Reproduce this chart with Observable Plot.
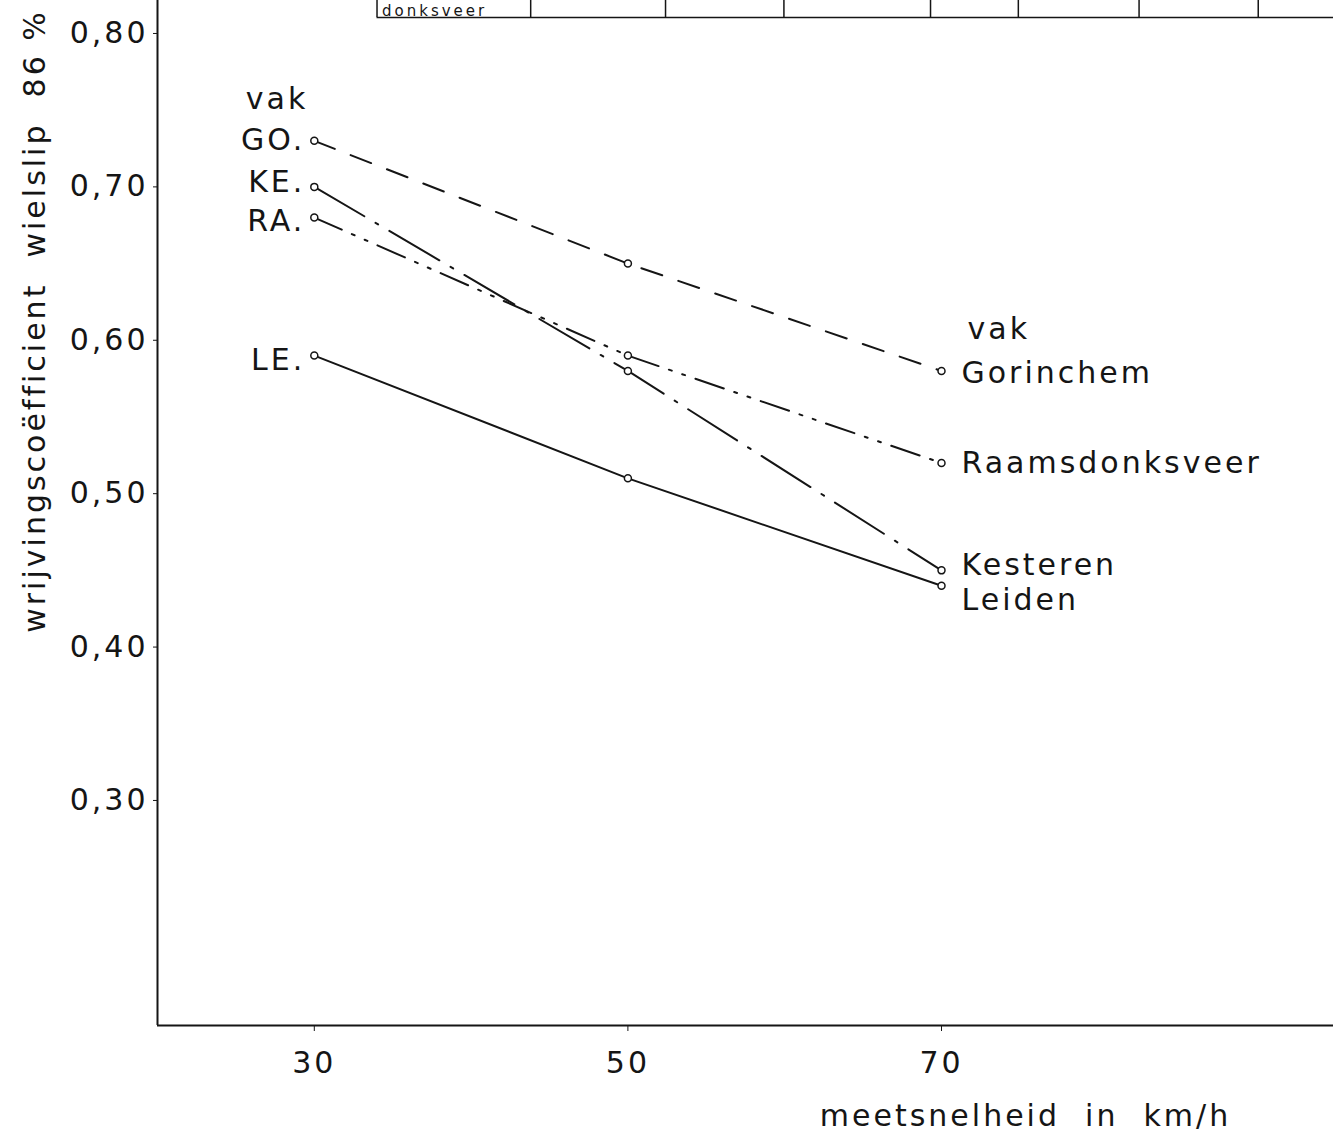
<!DOCTYPE html>
<html><head><meta charset="utf-8">
<script src="https://cdn.jsdelivr.net/npm/d3@7"></script>
<script src="https://cdn.jsdelivr.net/npm/@observablehq/plot@0.6"></script>
<style>
body{margin:0;background:#fff;}
#chart svg{font-family:"DejaVu Sans",sans-serif;}
</style></head><body><div id="chart"></div>
<script>
// ---- data ----
const speeds = [30, 50, 70];
const sections = ["Gorinchem", "Kesteren", "Raamsdonksveer", "Leiden"];
const codes = ["GO.", "KE.", "RA.", "LE."];
const gorinchem = [0.73, 0.65, 0.58];
const kesteren = [0.70, 0.58, 0.45];
const raamsdonksveer = [0.68, 0.59, 0.52];
const leiden = [0.59, 0.51, 0.44];
const yTicks = [0.30, 0.40, 0.50, 0.60, 0.70, 0.80];
const xTicks = [30, 50, 70];
const tableColumnSpeeds = [34.0, 43.8, 52.4, 59.95, 69.3, 74.9, 82.6, 90.2];

// ---- styles (not data) ----
const ink = "#151515";
const seriesStyle = {
  Gorinchem:      {dash: "22,17", leftDy: 0, rightDy: 2},
  Kesteren:       {dash: "58,13,3,13", leftDy: -4, rightDy: -5},
  Raamsdonksveer: {dash: "30,11,3,11,3,11", leftDy: 4, rightDy: 0},
  Leiden:         {dash: null, leftDy: 5, rightDy: 15}
};

const valuesBySection = {Gorinchem: gorinchem, Kesteren: kesteren, Raamsdonksveer: raamsdonksveer, Leiden: leiden};
const rows = sections.flatMap((s, i) => speeds.map((v, j) => ({section: s, code: codes[i], speed: v, value: valuesBySection[s][j]})));

const xDomain = [20, 95];
const yDomain = [0.1533, 0.8215];

const marks = [];
// table fragment at top
marks.push(Plot.ruleY([0.8104], {x1: tableColumnSpeeds[0], x2: 95, stroke: ink, strokeWidth: 1.5}));
marks.push(Plot.ruleX(tableColumnSpeeds, {y1: 0.8104, y2: 0.8215, stroke: ink, strokeWidth: 1.5}));
marks.push(Plot.text(["donksveer"], {x: tableColumnSpeeds[0], y: 0.8112, textAnchor: "start", lineAnchor: "bottom", dx: 5, fontSize: 15, fill: ink, style: {letterSpacing: "2px"}}));

// axes lines
marks.push(Plot.ruleX([xDomain[0]], {stroke: ink, strokeWidth: 2}));
marks.push(Plot.ruleY([yDomain[0]], {stroke: ink, strokeWidth: 2}));
marks.push(Plot.axisY({ticks: yTicks, tickFormat: d => d.toFixed(2).replace(".", ","), tickSize: 4, tickPadding: 5, fontSize: 30, label: null, stroke: ink, fill: ink}));
marks.push(Plot.axisX({ticks: xTicks, tickSize: 6, tickPadding: 20, fontSize: 30, label: null, stroke: ink, fill: ink}));

// series
for (const s of sections) {
  const d = rows.filter(r => r.section === s);
  const st = seriesStyle[s];
  marks.push(Plot.line(d, {x: "speed", y: "value", stroke: ink, strokeWidth: 2, strokeDasharray: st.dash}));
  marks.push(Plot.dot(d, {x: "speed", y: "value", r: 3.5, fill: "white", stroke: ink, strokeWidth: 1.5}));
  marks.push(Plot.text(d.slice(0, 1), {x: "speed", y: "value", text: "code", textAnchor: "end", dx: -9, dy: st.leftDy, fontSize: 30, fill: ink}));
  marks.push(Plot.text(d.slice(-1), {x: "speed", y: "value", text: "section", textAnchor: "start", dx: 20, dy: st.rightDy, fontSize: 30, fill: ink}));
}
// "vak" headers
marks.push(Plot.text([rows.find(r => r.section === "Gorinchem" && r.speed === speeds[0])], {x: "speed", y: "value", text: () => "vak", textAnchor: "end", dx: -6, dy: -41, fontSize: 30, fill: ink}));
marks.push(Plot.text([rows.find(r => r.section === "Gorinchem" && r.speed === speeds[2])], {x: "speed", y: "value", text: () => "vak", textAnchor: "start", dx: 26, dy: -42, fontSize: 30, fill: ink}));

// axis titles
marks.push(Plot.text(["wrijvingscoëfficient  wielslip  86 %"], {frameAnchor: "left", dx: -122, dy: -192, rotate: -90, textAnchor: "middle", fontSize: 30, fill: ink}));
marks.push(Plot.text(["meetsnelheid  in  km/h"], {frameAnchor: "bottom", dx: 280, dy: 100, textAnchor: "middle", fontSize: 30, fill: ink}));

const chart = Plot.plot({
  width: 1333,
  height: 1145,
  marginLeft: 157,
  marginRight: 0,
  marginTop: 0,
  marginBottom: 120,
  x: {domain: xDomain},
  y: {domain: yDomain},
  style: {background: "white", color: ink, letterSpacing: "3px", fontFamily: "'DejaVu Sans', sans-serif"},
  marks
});
document.getElementById("chart").append(chart);
</script></body></html>
